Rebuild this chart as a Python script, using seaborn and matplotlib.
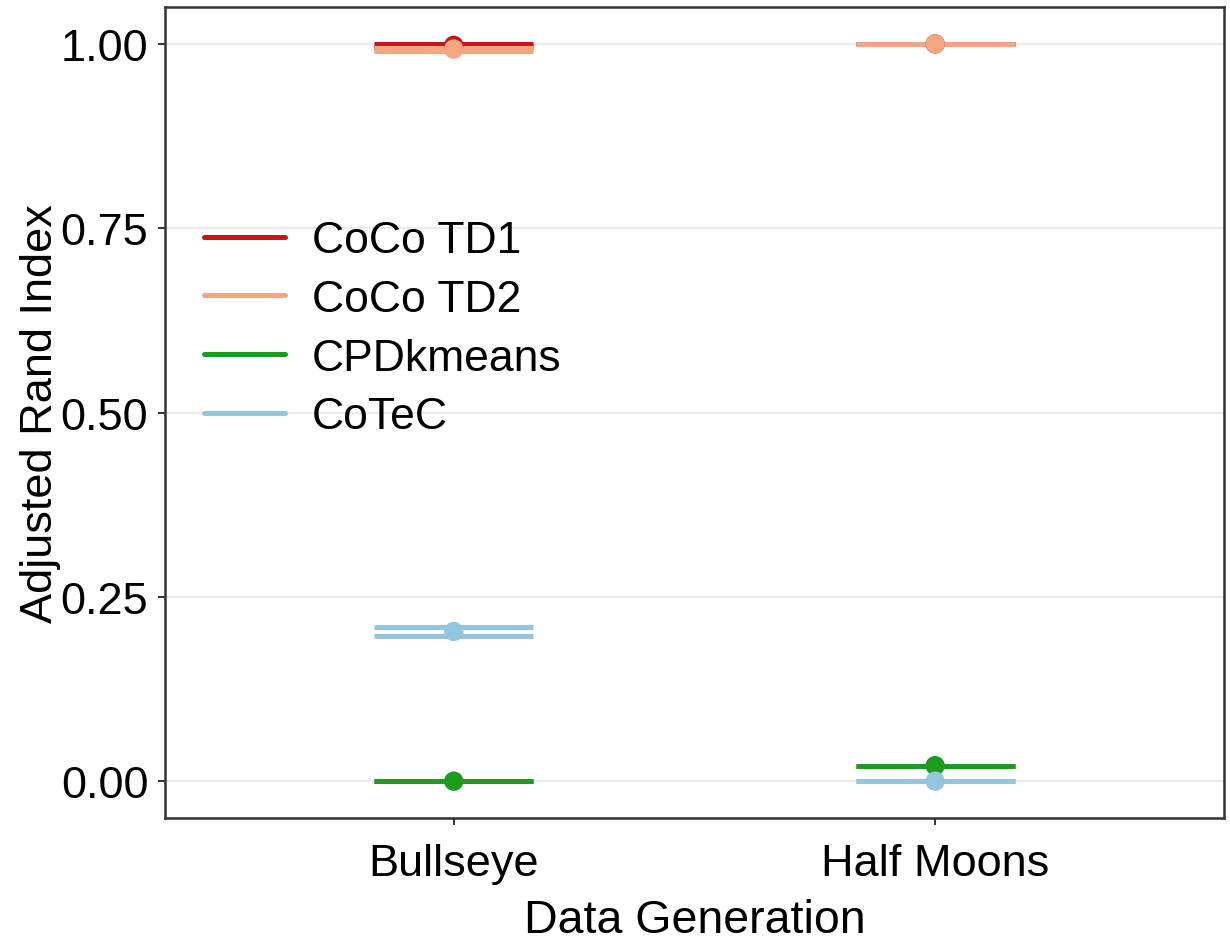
import numpy as np
import pandas as pd
import matplotlib
matplotlib.use("Agg")
import matplotlib.pyplot as plt
from matplotlib.lines import Line2D
import seaborn as sns

# Categories and methods
datasets = ["Bullseye", "Half Moons"]
methods = ["CoCo TD1", "CoCo TD2", "CPDkmeans", "CoTeC"]
colors = ["#CC1417", "#F4A582", "#1E9A1E", "#92C5DE"]

# Adjusted Rand Index per method: mean and interval bounds, [Bullseye, Half Moons]
td1_mean = [0.998, 1.000]
td1_low = [0.996, 1.000]
td1_high = [1.000, 1.000]

td2_mean = [0.993, 1.000]
td2_low = [0.990, 1.000]
td2_high = [0.995, 1.000]

cpd_mean = [0.000, 0.021]
cpd_low = [0.000, 0.021]
cpd_high = [0.000, 0.021]

cotec_mean = [0.203, 0.000]
cotec_low = [0.197, 0.000]
cotec_high = [0.209, 0.000]

yticks = [0.00, 0.25, 0.50, 0.75, 1.00]
ytick_labels = ["0.00", "0.25", "0.50", "0.75", "1.00"]

series = {
    "CoCo TD1": (td1_mean, td1_low, td1_high),
    "CoCo TD2": (td2_mean, td2_low, td2_high),
    "CPDkmeans": (cpd_mean, cpd_low, cpd_high),
    "CoTeC": (cotec_mean, cotec_low, cotec_high),
}
rows = []
for m in methods:
    mean, lo, hi = series[m]
    for d, a, b, c in zip(datasets, mean, lo, hi):
        rows.append({"dataset": d, "method": m, "ari": a, "low": b, "high": c})
df = pd.DataFrame(rows)
df["dataset"] = pd.Categorical(df["dataset"], categories=datasets, ordered=True)
df["xpos"] = df["dataset"].cat.codes

sns.set_theme(style="white")
plt.rcParams["font.family"] = ["Liberation Sans", "DejaVu Sans"]
plt.rcParams["text.color"] = "black"
plt.rcParams["axes.labelcolor"] = "black"

fig = plt.figure(figsize=(12.3, 9.45), dpi=100)
ax = fig.add_axes([0.1341, 0.1333, 0.8610, 0.8582])

palette = dict(zip(methods, colors))
half_w = 0.165
lw = 3.6

# Error bars (whiskers + stems), one method after another
for m in methods:
    sub = df[df["method"] == m]
    c = palette[m]
    ax.vlines(sub["xpos"], sub["low"], sub["high"], color=c, lw=lw, zorder=2)
    ax.hlines(sub["low"], sub["xpos"] - half_w, sub["xpos"] + half_w, color=c, lw=lw, zorder=2)
    ax.hlines(sub["high"], sub["xpos"] - half_w, sub["xpos"] + half_w, color=c, lw=lw, zorder=2)

# Mean points
sns.scatterplot(data=df, x="xpos", y="ari", hue="method", hue_order=methods,
                palette=palette, s=195, linewidth=0, legend=False, ax=ax, zorder=3)

ax.set_xlim(-0.6, 1.6)
ax.set_ylim(-0.05, 1.05)
ax.set_xticks(range(len(datasets)))
ax.set_xticklabels(datasets)
ax.set_yticks(yticks)
ax.set_yticklabels(ytick_labels)

ax.yaxis.grid(True, color="#EBEBEB", lw=1.6)
ax.xaxis.grid(False)
ax.set_axisbelow(True)
for sp in ax.spines.values():
    sp.set_visible(True)
    sp.set_color("#333333")
    sp.set_linewidth(1.8)

ax.tick_params(axis="both", length=5, width=1.4, color="#333333",
               labelsize=32.5, labelcolor="black", bottom=True, left=True)
ax.tick_params(axis="y", pad=7)
ax.tick_params(axis="x", pad=13)

ax.set_xlabel("Data Generation", fontsize=33.5, labelpad=10)
ax.set_ylabel("Adjusted Rand Index", fontsize=32.5, labelpad=0)

handles = [Line2D([0], [0], color=palette[m], lw=lw) for m in methods]
ax.legend(handles, methods, loc="upper left", bbox_to_anchor=(0.166, 0.766),
          bbox_transform=fig.transFigure, frameon=False, fontsize=32,
          handlelength=1.82, handletextpad=0.61, labelspacing=0.4,
          borderpad=0, borderaxespad=0)

fig.savefig("out.png", dpi=100, facecolor="white")
